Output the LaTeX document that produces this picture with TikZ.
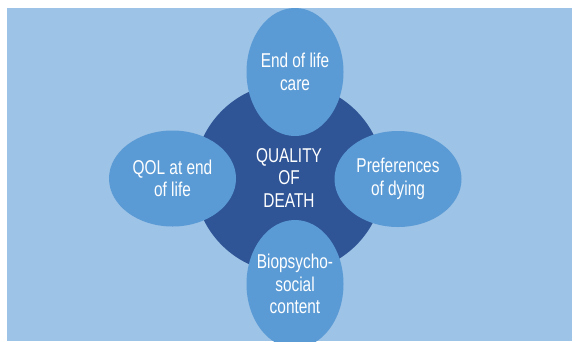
\documentclass[tikz,border=0pt]{standalone}
\usepackage{fontspec}
\setmainfont{Liberation Sans}[FakeStretch=0.77]
\usepackage{tikz}
\usetikzlibrary{shapes.geometric}

\definecolor{bgblue}{HTML}{9DC3E6}
\definecolor{midblue}{HTML}{5B9BD5}
\definecolor{darkblue}{HTML}{2F5597}

\begin{document}
\begin{tikzpicture}[x=1pt, y=-1pt,
	lbl/.style={text=white, align=center, font=\fontsize{20}{22.5}\selectfont},
	core/.style={lbl, circle, fill=darkblue, minimum size=190pt, inner sep=0pt},
	facet/.style={lbl, ellipse, fill=midblue, inner sep=-12pt},
	tall/.style={facet, minimum width=97pt, minimum height=128pt},
	wide/.style={facet, minimum width=127pt, minimum height=96pt}]
	\useasboundingbox (0,0) rectangle (575,341);
	\clip (0,0) rectangle (575,341);
	\fill[bgblue] (7,8) rectangle (572,341);
	% centre and the four aspects around it
	\node[core] (qod) at (289,178) {QUALITY\\OF\\DEATH};
	\node[tall] (care) at (295,72) {End of life\\care};
	\node[wide] (qol) at (172.5,178.5) {QOL at end\\of life};
	\node[wide] (pref) at (398,179) {Preferences\\of dying};
	\node[tall] (bio) at (295,284) {Biopsycho-\\social\\content};
\end{tikzpicture}
\end{document}
